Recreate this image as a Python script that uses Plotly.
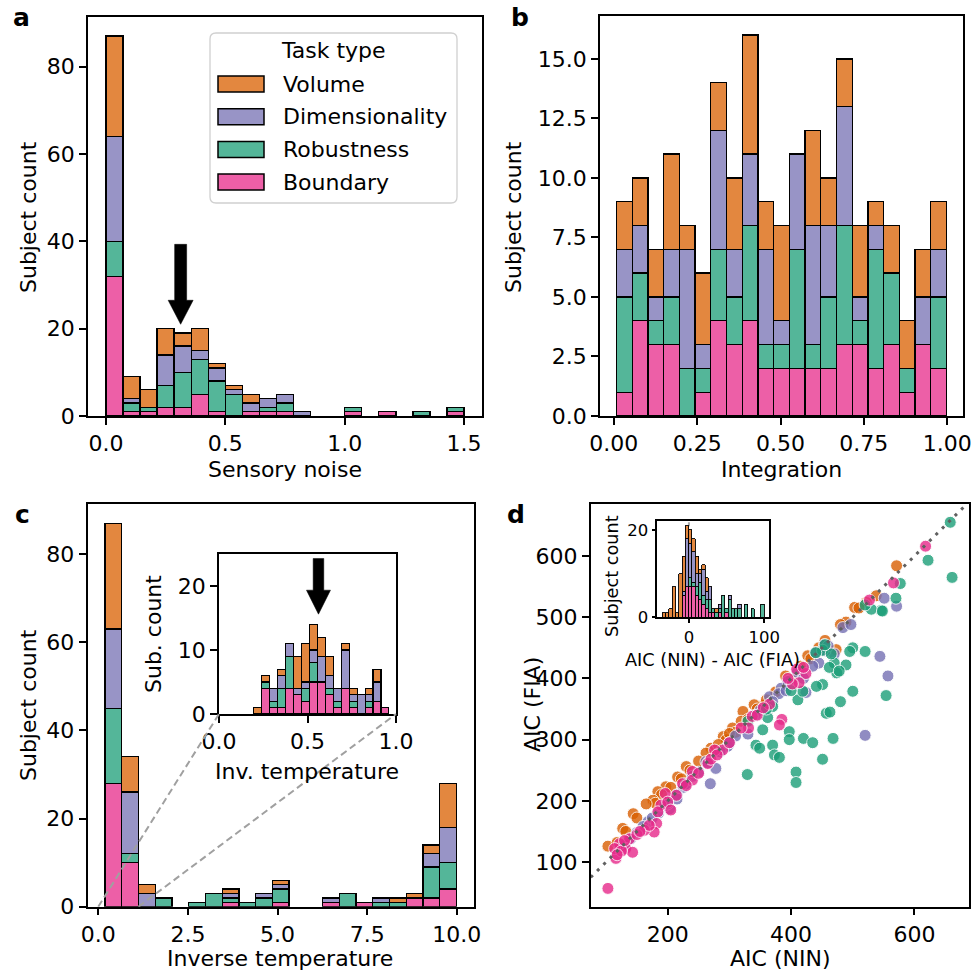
import numpy as np
import plotly.graph_objects as go

W, H = 972, 976
FONT = "DejaVu Sans"
FS = 22
FS_SMALL = 17.7
FS_TINY = 16.5

STACK_ORDER = ["Boundary", "Robustness", "Dimensionality", "Volume"]
LEGEND_ORDER = ["Volume", "Dimensionality", "Robustness", "Boundary"]
BAR_COLORS = {"Volume": "#e3873f", "Dimensionality": "#9894c6",
              "Robustness": "#54b699", "Boundary": "#ed5fa7"}
DOT_COLORS = {"Volume": "#d95f02", "Dimensionality": "#7570b3",
              "Robustness": "#1b9e77", "Boundary": "#e7298a"}

# ---------------- data ----------------
# a: sensory noise, 21 bins over [0, 1.5]
noise_lo, noise_hi, noise_nbins = 0.0, 1.5, 21
noise_counts = {
    "Boundary":       [32, 1, 1, 2, 2, 5, 1, 0, 1, 1, 1, 0, 0, 0, 1, 0, 1, 0, 0, 0, 1],
    "Robustness":     [8, 2, 1, 5, 8, 8, 7, 5, 0, 1, 2, 0, 0, 0, 1, 0, 0, 0, 1, 0, 1],
    "Dimensionality": [24, 1, 0, 7, 6, 2, 3, 1, 2, 2, 2, 1, 0, 0, 0, 0, 0, 0, 0, 0, 0],
    "Volume":         [23, 5, 4, 6, 3, 5, 1, 1, 2, 0, 0, 0, 0, 0, 0, 0, 0, 0, 0, 0, 0],
}
# b: integration, 21 bins over [0.008, 0.998]
integ_lo, integ_hi, integ_nbins = 0.008, 0.998, 21
integ_counts = {
    "Boundary":       [1, 4, 3, 3, 0, 1, 4, 3, 4, 2, 2, 2, 2, 2, 3, 3, 2, 3, 1, 3, 2],
    "Robustness":     [4, 2, 1, 2, 2, 1, 3, 2, 4, 1, 1, 5, 1, 3, 5, 1, 5, 3, 1, 0, 3],
    "Dimensionality": [2, 2, 1, 2, 5, 1, 5, 2, 3, 4, 1, 4, 5, 3, 5, 1, 1, 0, 0, 2, 2],
    "Volume":         [2, 2, 2, 4, 1, 3, 2, 3, 5, 2, 4, 0, 4, 2, 2, 3, 1, 2, 2, 2, 2],
}
# c: inverse temperature, 21 bins over [0.19, 9.99]
invt_lo, invt_hi, invt_nbins = 0.19, 9.99, 21
invt_counts = {
    "Boundary":       [28, 10, 0, 0, 0, 0, 0, 1, 0, 0, 1, 0, 0, 1, 0, 1, 0, 0, 2, 2, 4],
    "Robustness":     [17, 2, 0, 2, 0, 1, 3, 1, 1, 2, 3, 0, 0, 0, 3, 0, 1, 1, 0, 7, 6],
    "Dimensionality": [18, 14, 3, 0, 0, 0, 0, 1, 0, 1, 1, 0, 0, 1, 0, 0, 1, 0, 0, 3, 8],
    "Volume":         [24, 8, 2, 0, 0, 0, 0, 1, 0, 0, 1, 0, 0, 0, 0, 0, 0, 1, 1, 2, 10],
}
# c inset: inverse temperature below 1, 17 bins over [0.196, 0.96]
invs_lo, invs_hi, invs_nbins = 0.196, 0.96, 17
invs_counts = {
    "Boundary":       [0, 4, 1, 1, 4, 3, 2, 5, 5, 3, 1, 4, 1, 0, 1, 2, 1],
    "Robustness":     [0, 1, 1, 3, 5, 0, 2, 3, 0, 1, 1, 0, 1, 0, 1, 0, 0],
    "Dimensionality": [0, 0, 2, 2, 2, 1, 1, 2, 4, 2, 2, 6, 1, 3, 1, 3, 0],
    "Volume":         [1, 1, 0, 1, 0, 5, 6, 4, 3, 3, 0, 1, 1, 0, 1, 2, 0],
}
# d inset: AIC difference, 31 bins over [-35.2, 99.9]
diff_lo, diff_hi, diff_nbins = -35.2, 99.9, 31
diff_counts = {
    "Boundary":       [0, 0, 0, 0, 0, 0, 5, 7, 7, 7, 5, 4, 3, 2, 1, 1, 0, 1, 0, 1, 0, 0, 0, 0, 0, 0, 0, 0, 0, 0, 0],
    "Robustness":     [0, 0, 0, 0, 0, 0, 0, 0, 2, 1, 2, 4, 2, 2, 3, 1, 1, 1, 5, 1, 4, 2, 2, 2, 0, 3, 0, 2, 0, 0, 3],
    "Dimensionality": [0, 0, 0, 0, 0, 0, 1, 11, 8, 7, 3, 2, 6, 2, 3, 0, 0, 1, 0, 0, 1, 0, 0, 1, 0, 0, 0, 0, 0, 0, 0],
    "Volume":         [1, 1, 2, 7, 1, 10, 8, 3, 3, 3, 4, 1, 1, 3, 0, 0, 1, 0, 0, 0, 0, 0, 0, 0, 0, 0, 0, 0, 0, 0, 0],
}
# d: AIC scatter
vol_nin = [571, 522, 503, 489, 480, 473, 427, 432, 391, 400, 355, 340, 345, 322, 319, 330, 305, 310, 290, 295,
           270, 275, 262, 230, 236, 216, 222, 197, 205, 184, 190, 176, 180, 165, 144, 127, 132, 103, 118, 150,
           250, 360, 375, 415, 445, 455, 510, 538, 300, 282]
vol_fia = [584, 524, 516, 492, 488, 447, 437, 432, 404, 398, 356, 357, 350, 346, 330, 333, 319, 312, 305, 300,
           286, 283, 278, 256, 250, 239, 236, 223, 222, 215, 210, 201, 196, 195, 179, 155, 150, 126, 132, 172,
           265, 365, 378, 420, 450, 462, 515, 535, 310, 292]
dim_nin = [571, 551, 557, 544, 520, 484, 497, 454, 445, 440, 470, 424, 384, 365, 330, 297, 278, 262, 269, 203,
           168, 410, 420, 395, 380, 350, 342, 310, 285, 265, 250, 240, 225, 215, 195, 185, 175, 160, 150, 140,
           455, 435, 392, 360, 300, 230, 215, 200, 130, 460, 370]
dim_fia = [518, 531, 404, 436, 307, 483, 488, 455, 425, 442, 440, 377, 384, 370, 309, 289, 253, 264, 228, 187,
           166, 410, 400, 395, 375, 348, 340, 306, 280, 262, 247, 240, 222, 210, 192, 180, 172, 158, 148, 138,
           445, 420, 380, 350, 295, 228, 203, 195, 128, 453, 362]
rob_nin = [658, 622, 661, 577, 570, 546, 530, 548, 500, 495, 520, 451, 470, 489, 474, 462, 478, 451, 441, 500,
           411, 419, 480, 457, 463, 554, 362, 354, 370, 397, 397, 420, 435, 468, 343, 349, 370, 373, 381, 451,
           329, 408, 408, 440, 465, 520, 360, 455, 400, 330]
rob_fia = [655, 593, 565, 555, 531, 511, 513, 510, 450, 444, 444, 446, 425, 422, 409, 418, 412, 390, 387, 379,
           365, 379, 362, 343, 345, 372, 336, 316, 354, 313, 300, 302, 295, 302, 291, 286, 291, 275, 271, 268,
           243, 247, 230, 442, 440, 520, 350, 455, 380, 330]
bnd_nin = [618, 566, 527, 409, 424, 413, 402, 365, 337, 331, 319, 385, 381, 289, 276, 265, 240, 240, 224, 214,
           196, 189, 184, 182, 178, 162, 138, 132, 122, 116, 143, 103, 114, 125, 130, 150, 170, 200, 205, 250,
           270, 300, 345, 355, 395, 420, 280, 230, 155, 118]
bnd_fia = [616, 556, 528, 415, 408, 393, 391, 358, 338, 319, 319, 333, 324, 283, 283, 261, 248, 234, 228, 209,
           212, 193, 182, 163, 149, 152, 138, 122, 130, 106, 116, 57, 122, 118, 135, 145, 160, 198, 185, 245,
           268, 295, 340, 352, 400, 418, 275, 225, 150, 112]
scatter_data = {"Volume": (vol_nin, vol_fia), "Dimensionality": (dim_nin, dim_fia),
                "Robustness": (rob_nin, rob_fia), "Boundary": (bnd_nin, bnd_fia)}

# ---------------- layout geometry (pixels: x0, x1, top, bottom) ----------------
BOX = {
    "a": (88, 482, 17, 416),
    "b": (600, 963, 16, 416),
    "c": (87.5, 474, 504, 906.7),
    "d": (590.7, 969.3, 504, 906.7),
    "ci": (219, 396, 554, 714),
    "di": (657.3, 769.3, 521, 617.3),
}
AX = {"a": ("x", "y"), "b": ("x2", "y2"), "c": ("x3", "y3"), "d": ("x4", "y4"),
      "ci": ("x5", "y5"), "di": ("x6", "y6")}


def dom(key):
    x0, x1, t, b = BOX[key]
    return [x0 / W, x1 / W], [1 - b / H, 1 - t / H]


fig = go.Figure()
RANGES = {}


def add_hist(key, lo, hi, nb, counts, lw=1.3):
    edges = np.linspace(lo, hi, nb + 1)
    centers = (edges[:-1] + edges[1:]) / 2
    width = edges[1] - edges[0]
    xa, ya = AX[key]
    for task in STACK_ORDER:
        yv = [c if c > 0 else None for c in counts[task]]
        fig.add_trace(go.Bar(x=centers, y=yv, width=width, name=task, showlegend=False,
                             marker=dict(color=BAR_COLORS[task], line=dict(color="black", width=lw)),
                             xaxis=xa, yaxis=ya))
    total = np.sum([counts[t] for t in STACK_ORDER], axis=0)
    span = hi - lo
    RANGES[key] = ([lo - 0.05 * span, hi + 0.05 * span], [0, 1.05 * total.max()])


add_hist("a", noise_lo, noise_hi, noise_nbins, noise_counts)
add_hist("b", integ_lo, integ_hi, integ_nbins, integ_counts)
add_hist("c", invt_lo, invt_hi, invt_nbins, invt_counts)
add_hist("ci", invs_lo, invs_hi, invs_nbins, invs_counts, lw=1.1)
add_hist("di", diff_lo, diff_hi, diff_nbins, diff_counts, lw=0.9)
RANGES["ci"] = ([0, 1], [0, 25])

# scatter
allx = np.concatenate([scatter_data[t][0] for t in LEGEND_ORDER])
ally = np.concatenate([scatter_data[t][1] for t in LEGEND_ORDER])
sx = allx.max() - allx.min()
sy = ally.max() - ally.min()
RANGES["d"] = ([allx.min() - 0.05 * sx, allx.max() + 0.05 * sx],
               [ally.min() - 0.05 * sy, ally.max() + 0.05 * sy])
for task in LEGEND_ORDER:
    xs, ys = scatter_data[task]
    fig.add_trace(go.Scatter(x=xs, y=ys, mode="markers", name=task, showlegend=False,
                             marker=dict(size=12, color=DOT_COLORS[task], opacity=0.8,
                                         line=dict(color="white", width=1)),
                             xaxis="x4", yaxis="y4"))
dlo = max(RANGES["d"][0][0], RANGES["d"][1][0])
dhi = min(RANGES["d"][0][1], RANGES["d"][1][1])
fig.add_trace(go.Scatter(x=[dlo, dhi], y=[dlo, dhi], mode="lines", showlegend=False,
                         line=dict(color="#606060", width=3, dash="3px,6px"),
                         xaxis="x4", yaxis="y4", hoverinfo="skip"))

# ---------------- axes ----------------
TICKS = {
    "a": ([0, 0.5, 1.0, 1.5], ".1f", [0, 20, 40, 60, 80], "d"),
    "b": ([0, 0.25, 0.5, 0.75, 1.0], ".2f", [0, 2.5, 5, 7.5, 10, 12.5, 15], ".1f"),
    "c": ([0, 2.5, 5, 7.5, 10], ".1f", [0, 20, 40, 60, 80], "d"),
    "d": ([200, 400, 600], "d", [100, 200, 300, 400, 500, 600], "d"),
    "ci": ([0, 0.5, 1.0], ".1f", [0, 10, 20], "d"),
    "di": ([0, 100], "d", [0, 20], "d"),
}
layout_axes = {}
for key, (xa, ya) in AX.items():
    xd, yd = dom(key)
    xr, yr = RANGES[key]
    xt, xf, yt, yf = TICKS[key]
    fs = FS_TINY if key == "di" else FS
    tl = 4 if key == "di" else 7
    common = dict(showline=True, linecolor="black", linewidth=1.5, mirror=True, ticks="outside",
                  ticklen=tl, tickwidth=1.5, tickcolor="black", showgrid=False, zeroline=False,
                  automargin=False,
                  tickfont=dict(family=FONT, size=fs, color="black"), fixedrange=True)
    xname = "xaxis" if xa == "x" else "xaxis" + xa[1:]
    yname = "yaxis" if ya == "y" else "yaxis" + ya[1:]
    layout_axes[xname] = dict(domain=xd, range=xr, anchor=ya, tickvals=xt, tickformat=xf, **common)
    layout_axes[yname] = dict(domain=yd, range=yr, anchor=xa, tickvals=yt, tickformat=yf, **common)

fig.update_layout(width=W, height=H, margin=dict(l=0, r=0, t=0, b=0, pad=0, autoexpand=False),
                  autosize=False,
                  barmode="stack", paper_bgcolor="white", plot_bgcolor="white",
                  showlegend=False, font=dict(family=FONT, size=FS, color="black"),
                  **layout_axes)

# ---------------- helpers for pixel <-> data ----------------
def upx(key):
    x0, x1, t, b = BOX[key]
    xr, yr = RANGES[key]
    return (xr[1] - xr[0]) / (x1 - x0), (yr[1] - yr[0]) / (b - t)


def px_to_data(key, px, py):
    x0, x1, t, b = BOX[key]
    xr, yr = RANGES[key]
    return (xr[0] + (px - x0) * (xr[1] - xr[0]) / (x1 - x0),
            yr[0] + (b - py) * (yr[1] - yr[0]) / (b - t))


shapes = []
annotations = []


def arrow(key, xc, ytop, ytip, shaft_px, head_w_px, head_l_px):
    ux, uy = upx(key)
    s, hw, hl = shaft_px * ux, head_w_px * ux, head_l_px * uy
    yh = ytip + hl
    path = (f"M {xc - s},{ytop} L {xc + s},{ytop} L {xc + s},{yh} L {xc + hw},{yh} "
            f"L {xc},{ytip} L {xc - hw},{yh} L {xc - s},{yh} Z")
    xa, ya = AX[key]
    shapes.append(dict(type="path", path=path, xref=xa, yref=ya, fillcolor="black",
                       line=dict(color="black", width=0.5), layer="above"))


arrow("a", 0.313, 39.3, 21.0, 6, 12.5, 24)
arrow("ci", 0.562, 24.3, 15.6, 5.3, 12, 24)

# inset connector lines in panel c
cx0, cx1, ct, cb = BOX["ci"]
bl = px_to_data("c", cx0, cb)
br = px_to_data("c", cx1, cb)
for (sx0, sy0), (ex, ey) in [((0.0, 0.0), bl), ((1.12, 0.0), br)]:
    shapes.append(dict(type="line", xref="x3", yref="y3", x0=sx0, y0=sy0, x1=ex, y1=ey,
                       line=dict(color="#a0a0a0", width=2, dash="7px,4px"), layer="above"))

# zero line in d inset
shapes.append(dict(type="line", xref="x6", yref="y6", x0=0, x1=0, y0=0, y1=RANGES["di"][1][1],
                   line=dict(color="#aaaaaa", width=2, dash="4px,3px"), layer="below"))


def ppx(px):
    return px / W


def ppy(py):
    return 1 - py / H


# manual legend for panel a (paper pixels)
lx0, lx1, ly0, ly1, r = 210, 457, 33, 203, 6
legend_path = (f"M {ppx(lx0 + r)},{ppy(ly0)} L {ppx(lx1 - r)},{ppy(ly0)} "
               f"Q {ppx(lx1)},{ppy(ly0)} {ppx(lx1)},{ppy(ly0 + r)} L {ppx(lx1)},{ppy(ly1 - r)} "
               f"Q {ppx(lx1)},{ppy(ly1)} {ppx(lx1 - r)},{ppy(ly1)} L {ppx(lx0 + r)},{ppy(ly1)} "
               f"Q {ppx(lx0)},{ppy(ly1)} {ppx(lx0)},{ppy(ly1 - r)} L {ppx(lx0)},{ppy(ly0 + r)} "
               f"Q {ppx(lx0)},{ppy(ly0)} {ppx(lx0 + r)},{ppy(ly0)} Z")
shapes.append(dict(type="path", path=legend_path, xref="paper", yref="paper",
                   fillcolor="rgba(255,255,255,0.85)", line=dict(color="#d0d0d0", width=1.3),
                   layer="above"))
annotations.append(dict(text="Task type", x=ppx(333), y=ppy(50), xref="paper", yref="paper",
                        showarrow=False, xanchor="center", yanchor="middle",
                        font=dict(family=FONT, size=FS, color="black")))
for i, task in enumerate(LEGEND_ORDER):
    yc = 84 + i * 32.7
    shapes.append(dict(type="rect", xref="paper", yref="paper", x0=ppx(218), x1=ppx(264),
                       y0=ppy(yc - 8), y1=ppy(yc + 8), fillcolor=BAR_COLORS[task],
                       line=dict(color="black", width=1.5), layer="above"))
    annotations.append(dict(text=task, x=ppx(281), y=ppy(yc), xref="paper", yref="paper",
                            showarrow=False, xanchor="left", yanchor="middle",
                            font=dict(family=FONT, size=FS, color="black")))


def label(text, px, py, angle=0, size=FS):
    annotations.append(dict(text=text, x=ppx(px), y=ppy(py), xref="paper", yref="paper",
                            showarrow=False, xanchor="center", yanchor="middle", textangle=angle,
                            font=dict(family=FONT, size=size, color="black")))


label("Sensory noise", 285, 469)
label("Subject count", 28, 217, -90)
label("Integration", 781, 469)
label("Subject count", 513, 217, -90)
label("Inverse temperature", 280, 958)
label("Subject count", 28, 705, -90)
label("AIC (NIN)", 780, 958)
label("AIC (FIA)", 532, 705, -90)
label("Sub. count", 153, 634, -90)
label("Inv. temperature", 307, 771)
label("Subject count", 612, 576, -90, FS_SMALL)
label("AIC (NIN) - AIC (FIA)", 712, 660, 0, FS_SMALL)

# panel letters
for letter, px, py in [("a", 21, 17), ("b", 520, 17), ("c", 22, 514), ("d", 516, 514)]:
    annotations.append(dict(text=f"<b>{letter}</b>", x=ppx(px), y=ppy(py), xref="paper", yref="paper",
                            showarrow=False, xanchor="center", yanchor="middle",
                            font=dict(family=FONT, size=25, color="black")))

fig.update_layout(shapes=shapes, annotations=annotations)
fig.write_html("out.html")
